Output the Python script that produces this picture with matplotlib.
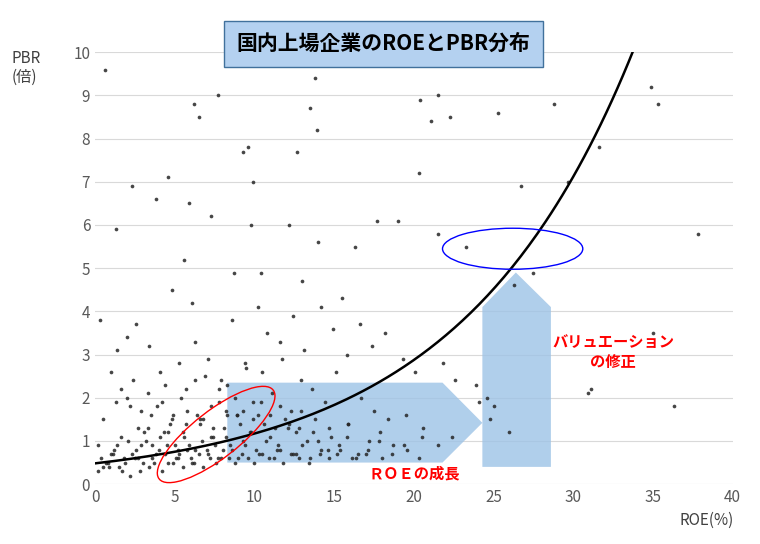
import numpy as np
import matplotlib.pyplot as plt
from matplotlib.patches import Polygon, Ellipse

plt.rcParams['font.family'] = ['Noto Sans CJK JP', 'DejaVu Sans']

# scatter points read (approximately) from the reference
roe = [0.6,1.3,2.3,3.8,4.6,5.9,6.2,6.5,7.7,9.3,9.6,9.9,12.7,13.5,13.8,13.9,20.4,21.1,21.5,22.3,25.3,26.7,28.8,34.9,35.3,
       0.3,1.4,4.8,5.6,6.1,7.3,8.7,9.8,10.4,12.2,13.0,14.0,15.5,16.3,17.7,19.0,20.3,21.5,23.3,24.6,26.3,27.5,29.7,31.1,31.6,37.8,
       0.2,0.5,2.0,2.6,3.4,4.1,5.3,6.3,7.1,7.9,8.6,9.5,10.2,10.8,11.6,12.4,13.1,14.2,14.9,15.8,16.6,17.4,18.2,19.3,20.1,21.8,22.6,23.9,24.1,25.0,
       0.5,1.0,1.6,2.2,2.7,3.1,3.6,4.2,4.7,5.2,5.7,6.4,6.9,7.4,7.8,8.3,8.9,9.4,9.9,10.5,11.1,11.7,12.3,12.9,13.6,14.4,15.1,15.9,16.7,17.5,18.4,19.5,20.6,22.4,24.8,26.0,30.9,35.0,36.3,
       0.8,1.2,1.7,2.1,2.5,2.9,3.3,3.7,4.1,4.4,4.8,5.1,5.5,5.9,6.2,6.6,7.0,7.3,7.7,8.1,8.5,8.9,9.3,9.7,10.1,10.6,11.0,11.5,11.9,12.4,12.8,13.3,13.7,14.2,14.8,15.3,15.9,16.5,17.2,17.9,18.7,19.6,20.5,21.5,
       0.4,0.9,1.4,1.9,2.3,2.8,3.2,3.6,4.0,4.3,4.6,5.0,5.3,5.6,6.0,6.3,6.7,7.1,7.5,7.9,8.2,8.6,9.0,9.4,9.8,10.3,10.7,11.2,11.6,12.1,12.6,13.0,13.5,14.0,14.6,15.2,15.8,16.4,17.1,17.8,18.6,19.4,20.3,
       0.2,0.7,1.1,1.5,1.8,2.2,2.6,3.0,3.4,3.8,4.2,4.5,4.9,5.2,5.5,5.8,6.1,6.5,6.8,7.2,7.6,8.0,8.4,8.8,9.2,9.6,10.0,10.5,10.9,11.4,11.8,12.3,12.8,13.4,14.1,14.7,15.4,16.1,17.0,18.0,
       1.0,1.6,2.0,2.4,2.9,3.3,3.9,4.4,4.9,5.4,5.8,6.3,6.8,7.3,7.8,8.3,8.8,9.3,9.9,10.4,11.0,11.6,12.2,12.9,13.8,14.7,
       1.3,2.7,3.5,4.6,5.7,6.6,7.4,8.2,9.1,10.2,11.3,12.6]
pbr = [9.6,5.9,6.9,6.6,7.1,6.5,8.8,8.5,9.0,7.7,7.8,7.0,7.7,8.7,9.4,8.2,8.9,8.4,9.0,8.5,8.6,6.9,8.8,9.2,8.8,
       3.8,3.1,4.5,5.2,4.2,6.2,4.9,6.0,4.9,6.0,4.7,5.6,4.3,5.5,6.1,6.1,7.2,5.8,5.5,2.0,4.6,4.9,7.0,2.2,7.8,5.8,
       0.9,1.5,3.4,3.7,3.2,2.6,2.8,3.3,2.9,2.4,3.8,2.7,4.1,3.5,3.3,3.9,3.1,4.1,3.6,3.0,3.7,3.2,3.5,2.9,2.6,2.8,2.4,2.3,1.9,1.8,
       0.4,0.7,1.1,1.8,0.6,1.2,0.9,1.9,1.4,0.8,2.2,1.6,2.5,1.1,1.9,2.3,1.6,2.8,1.9,2.6,2.1,2.9,1.7,2.4,2.2,1.9,2.6,1.4,2.0,1.7,1.5,1.6,1.3,1.1,1.5,1.2,2.1,3.5,1.8,
       0.5,0.8,0.3,1.0,0.6,0.9,1.3,0.5,1.1,0.7,1.5,0.6,1.2,0.9,0.5,1.4,0.8,1.1,0.6,1.3,0.9,1.6,1.0,1.2,0.8,1.4,1.1,0.9,1.5,0.7,1.3,1.0,1.2,0.8,1.1,0.9,1.4,0.7,1.0,1.2,0.9,0.8,1.1,0.9,
       0.6,0.4,0.9,0.5,0.7,0.3,1.0,0.6,0.8,1.2,0.5,0.9,0.7,1.1,0.6,0.8,1.0,0.7,0.9,0.6,1.1,0.8,0.6,0.9,1.2,0.7,1.0,0.6,0.8,1.3,0.7,0.9,0.6,1.0,0.8,0.7,1.1,0.6,0.8,1.0,0.7,0.9,0.6,
       0.3,0.5,0.7,0.4,0.6,0.2,0.8,0.5,0.4,0.7,0.3,0.9,0.5,0.6,0.4,0.8,0.5,0.7,0.4,0.6,0.5,0.8,0.6,0.5,0.7,0.6,0.5,0.7,0.6,0.8,0.5,0.7,0.6,0.5,0.7,0.6,0.8,0.6,0.7,0.6,
       2.6,2.2,2.0,2.4,1.7,2.1,1.8,2.3,1.6,2.0,1.7,2.4,1.5,1.8,2.2,1.6,2.0,1.7,1.5,1.9,1.6,1.8,1.4,1.7,1.5,1.3,
       1.9,1.3,1.6,1.2,1.4,1.5,1.3,1.7,1.4,1.6,1.3,1.2]

# trend curve points
curve_x = [0, 5, 10, 15, 20, 25, 30, 34.5]
curve_y = [0.5, 0.75, 1.1, 1.75, 2.9, 4.9, 7.5, 10.0]

fig = plt.figure(figsize=(7.6, 5.44), dpi=100)
ax = fig.add_axes([0.125, 0.11, 0.839, 0.794])
ax.set_xlim(0, 40)
ax.set_ylim(0, 10)
ax.set_xticks(range(0, 41, 5))
ax.set_yticks(range(0, 11))
ax.grid(axis='y', color='#d9d9d9', lw=0.8)
ax.set_axisbelow(True)
for s in ax.spines.values():
    s.set_visible(False)
ax.tick_params(length=0, colors='#595959', labelsize=11)

ax.add_patch(Polygon([(8.3, 0.5), (21.8, 0.5), (24.3, 1.42), (21.8, 2.35), (8.3, 2.35)],
                     closed=True, fc='#9dc3e6', ec='none', alpha=0.8, zorder=2))
ax.add_patch(Polygon([(24.3, 0.4), (28.6, 0.4), (28.6, 4.1), (26.4, 4.9), (24.3, 4.1)],
                     closed=True, fc='#9dc3e6', ec='none', alpha=0.8, zorder=2))

ax.scatter(roe, pbr, s=7, color='#262626', alpha=0.85, lw=0, zorder=3)

coef = np.polyfit(curve_x, np.log(curve_y), 2)
xx = np.linspace(0, 34.5, 200)
ax.plot(xx, np.exp(np.polyval(coef, xx)), color='black', lw=1.8, zorder=4)

ax.add_patch(Ellipse((7.6, 1.15), 7.6, 1.3, angle=14, fc='none', ec='red', lw=1, zorder=5))
ax.add_patch(Ellipse((26.2, 5.45), 8.8, 0.95, fc='none', ec='blue', lw=1, zorder=5))

ax.text(20, 0.25, 'ＲＯＥの成長', color='red', fontsize=11, fontweight='bold', ha='center', va='center', zorder=6)
ax.text(32.5, 3.05, 'バリュエーション\nの修正', color='red', fontsize=11, fontweight='bold',
        ha='center', va='center', linespacing=1.3, zorder=6)

fig.text(0.015, 0.875, 'PBR\n(倍)', fontsize=11, color='#404040', va='center')
fig.text(0.965, 0.035, 'ROE(%)', fontsize=11, color='#404040', ha='right')
fig.text(0.505, 0.92, '国内上場企業のROEとPBR分布', fontsize=15, fontweight='bold', ha='center', va='center',
         bbox=dict(boxstyle='square,pad=0.6', fc='#b4d1f0', ec='#41719c', lw=1))

fig.savefig('out.png', dpi=100)
